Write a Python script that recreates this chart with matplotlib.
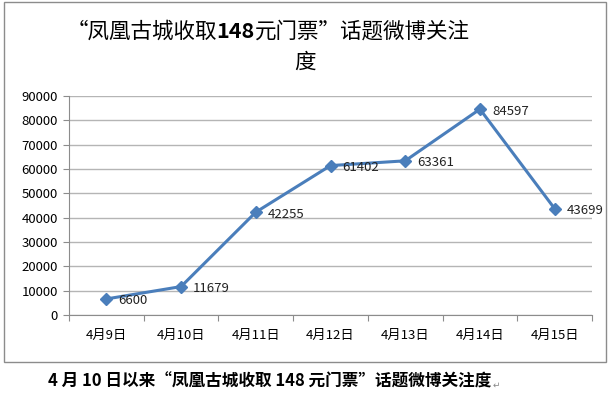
import matplotlib.pyplot as plt
from matplotlib.patches import Rectangle

plt.rcParams['font.family'] = ['Noto Sans CJK SC', 'DejaVu Sans']

# 数据
dates = ["4月9日", "4月10日", "4月11日", "4月12日", "4月13日", "4月14日", "4月15日"]
values = [6600, 11679, 42255, 61402, 63361, 84597, 43699]
yticks = [0, 10000, 20000, 30000, 40000, 50000, 60000, 70000, 80000, 90000]

W, H = 610, 396
fig = plt.figure(figsize=(W / 100, H / 100), dpi=100)
renderer = fig.canvas.get_renderer()

# 图表外框
fig.patches.append(Rectangle((4 / W, 1 - 362 / H), 602 / W, 360 / H,
                             transform=fig.transFigure, fill=False,
                             edgecolor="#8c8c8c", linewidth=1.0))

ax = fig.add_axes([69 / W, 1 - 315 / H, 523 / W, 219 / H])
x = list(range(len(dates)))
ax.plot(x, values, color="#4a7ebb", linewidth=2.2, marker="D", markersize=6,
        markerfacecolor="#4a7ebb", markeredgecolor="#4a7ebb", zorder=3)
for xi, v in zip(x, values):
    ax.annotate(str(v), (xi, v), xytext=(12, -2), textcoords="offset pixels",
                ha="left", va="center", fontsize=9.5, color="#222222")

ax.set_xlim(-0.5, len(dates) - 0.5)
ax.set_ylim(0, 90000)
ax.set_yticks(yticks)
ax.set_yticklabels([str(t) for t in yticks], fontsize=9.5)
ax.set_xticks([i - 0.5 for i in range(len(dates) + 1)])
ax.set_xticklabels([])
ax.set_xticks(x, minor=True)
ax.set_xticklabels(dates, minor=True, fontsize=9.5)
ax.tick_params(axis="x", which="major", length=4, color="#8c8c8c")
ax.tick_params(axis="x", which="minor", length=0, pad=10)
ax.tick_params(axis="y", length=4, color="#8c8c8c", pad=4)
ax.grid(True, axis="y", color="#b5b5b5", linewidth=1.0)
ax.set_axisbelow(True)
for s in ["top", "right"]:
    ax.spines[s].set_visible(False)
for s in ["left", "bottom"]:
    ax.spines[s].set_color("#8c8c8c")

# 标题：三段拼接，中间数字加粗
parts = [("“凤凰古城收取", "normal"), ("148", "bold"), ("元门票”话题微博关注", "normal")]
texts = []
for s, w in parts:
    t = fig.text(0, 1 - 32 / H, s, fontsize=15.5, fontweight=w, ha="left", va="center")
    texts.append(t)
widths = [t.get_window_extent(renderer).width for t in texts]
x0 = 268 - sum(widths) / 2
for t, w in zip(texts, widths):
    t.set_x(x0 / W)
    x0 += w
fig.text(305 / W, 1 - 63 / H, "度", fontsize=15.5, ha="center", va="center")

# 图下说明
cap = fig.text(48 / W, 1 - 382 / H, "4 月 10 日以来“凤凰古城收取 148 元门票”话题微博关注度",
               fontsize=12, fontweight="bold", ha="left", va="center")
cap_end = cap.get_window_extent(renderer).x1
fig.text((cap_end + 1) / W, 1 - 385 / H, "↵", fontsize=6.5, color="#888888",
         ha="left", va="center")

fig.savefig("out.png", dpi=100)
